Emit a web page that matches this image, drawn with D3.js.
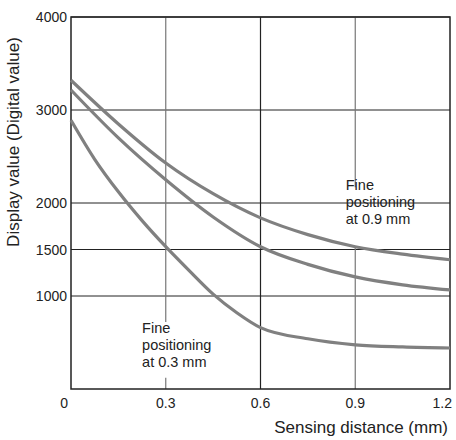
<!DOCTYPE html>
<html>
<head>
<meta charset="utf-8">
<script src="https://cdnjs.cloudflare.com/ajax/libs/d3/7.8.5/d3.min.js"></script>
<style>
  body { margin: 0; background: #fff; }
  text { font-family: "Liberation Sans", Arial, sans-serif; fill: #222; }
</style>
</head>
<body>
<svg id="chart" width="456" height="440"></svg>
<script>
const xTicks = [0.3, 0.6, 0.9, 1.2];
const yTicks = [0, 1000, 1500, 2000, 3000, 4000];
const distance = [0, 0.15, 0.3, 0.45, 0.6, 0.75, 0.9, 1.05, 1.2];
const curveTop = [3320, 2850, 2430, 2100, 1840, 1660, 1530, 1450, 1390];
const curveMid = [3215, 2700, 2250, 1850, 1530, 1340, 1205, 1120, 1065];
const distanceLow = [0, 0.075, 0.15, 0.225, 0.3, 0.375, 0.45, 0.525, 0.6, 0.75, 0.9, 1.05, 1.2];
const curveLow = [2890, 2470, 2120, 1810, 1530, 1270, 1020, 820, 660, 540, 475, 452, 441];

const margin = {top: 17, right: 6, bottom: 51, left: 71};
const svg = d3.select('#chart');
const width = 456 - margin.left - margin.right;
const height = 440 - margin.top - margin.bottom;
const g = svg.append('g').attr('transform', 'translate(' + margin.left + ',' + margin.top + ')');

const x = d3.scaleLinear().domain([0, 1.2]).range([0, width]);
const y = d3.scaleLinear().domain([0, 4000]).range([height, 0]);

// horizontal grid
g.selectAll('.hgrid').data(yTicks.filter(d => d > 0)).join('line')
  .attr('x1', 0).attr('x2', width)
  .attr('y1', d => y(d)).attr('y2', d => y(d))
  .attr('stroke', '#222').attr('stroke-width', 1);

// vertical grid (0.3 and 0.9 are grey and broken by the labels)
const vSegs = [
  {v: 0.3, y1: 4000, y2: 1000, c: '#777'},
  {v: 0.3, y1: 1000, y2: 720, c: '#777'},
  {v: 0.3, y1: 120, y2: 0, c: '#777'},
  {v: 0.6, y1: 4000, y2: 0, c: '#222'},
  {v: 0.9, y1: 4000, y2: 2170, c: '#777'},
  {v: 0.9, y1: 1530, y2: 0, c: '#777'}
];
g.selectAll('.vgrid').data(vSegs).join('line')
  .attr('x1', d => x(d.v)).attr('x2', d => x(d.v))
  .attr('y1', d => y(d.y1)).attr('y2', d => y(d.y2))
  .attr('stroke', d => d.c).attr('stroke-width', 1.2);

// frame
g.append('rect').attr('width', width).attr('height', height)
  .attr('fill', 'none').attr('stroke', '#222').attr('stroke-width', 1.5);

// curves
const line = d3.line().curve(d3.curveMonotoneX)
  .x(d => x(d[0])).y(d => y(d[1]));
[d3.zip(distance, curveTop), d3.zip(distance, curveMid), d3.zip(distanceLow, curveLow)].forEach(pts => {
  g.append('path').datum(pts).attr('d', line)
    .attr('fill', 'none').attr('stroke', '#808080').attr('stroke-width', 3.2);
});

// tick labels
g.selectAll('.xt').data([0].concat(xTicks)).join('text')
  .attr('x', d => x(d)).attr('y', height + 19)
  .attr('text-anchor', d => d === 0 ? 'end' : (d === 1.2 ? 'end' : 'middle'))
  .attr('dx', d => d === 0 ? -3 : (d === 1.2 ? 2 : 0))
  .attr('font-size', 14).text(d => d === 0 ? '0' : d.toFixed(1));
g.selectAll('.yt').data(yTicks.filter(d => d > 0)).join('text')
  .attr('x', -4).attr('y', d => y(d) + 5)
  .attr('text-anchor', 'end').attr('font-size', 14).text(d => d);

// axis titles
g.append('text').attr('x', width - 2).attr('y', height + 44)
  .attr('text-anchor', 'end').attr('font-size', 17).text('Sensing distance (mm)');
svg.append('text').attr('transform', 'translate(19,142) rotate(-90)')
  .attr('text-anchor', 'middle').attr('font-size', 17).text('Display value (Digital value)');

// annotations
function note(xv, yv, lines) {
  const t = g.append('text').attr('font-size', 14.5);
  lines.forEach((s, i) => t.append('tspan').attr('x', x(xv)).attr('y', y(yv) + i * 17).text(s));
}
note(0.87, 2140, ['Fine', 'positioning', 'at 0.9 mm']);
note(0.225, 600, ['Fine', 'positioning', 'at 0.3 mm']);
</script>
</body>
</html>
